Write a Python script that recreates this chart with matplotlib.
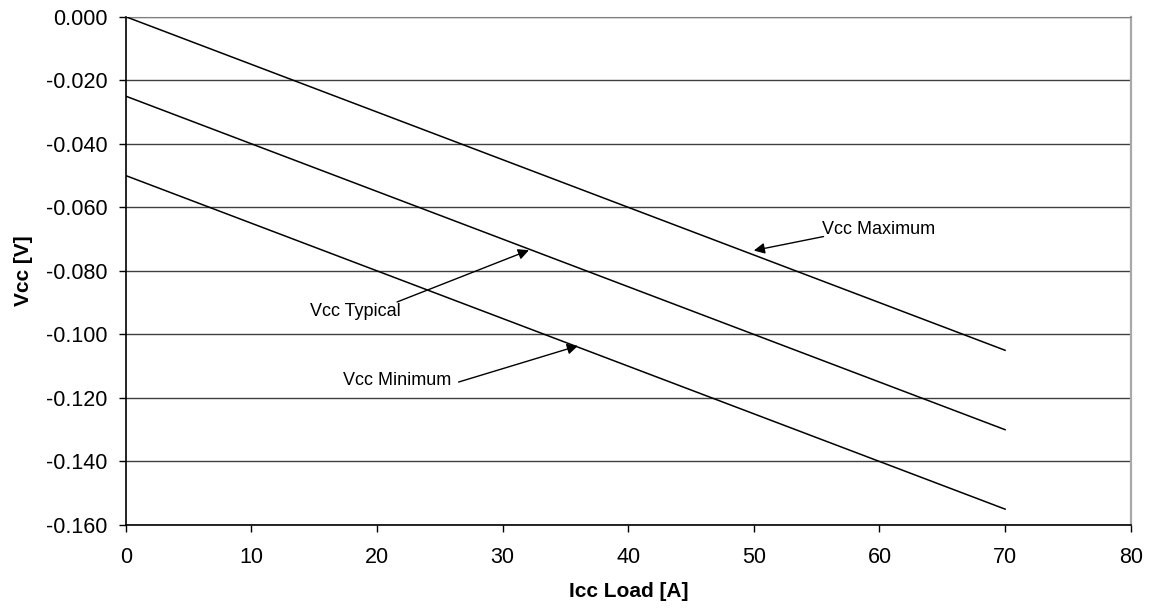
import numpy as np
import matplotlib.pyplot as plt

plt.rcParams['font.family'] = ['Liberation Sans', 'DejaVu Sans']

icc = [0, 10, 20, 30, 40, 50, 60, 70]
vcc_max = [0.000, -0.015, -0.030, -0.045, -0.060, -0.075, -0.090, -0.105]
vcc_typ = [-0.025, -0.040, -0.055, -0.070, -0.085, -0.100, -0.115, -0.130]
vcc_min = [-0.050, -0.065, -0.080, -0.095, -0.110, -0.125, -0.140, -0.155]

xticks = [0, 10, 20, 30, 40, 50, 60, 70, 80]
yticks = [-0.160, -0.140, -0.120, -0.100, -0.080, -0.060, -0.040, -0.020, 0.000]
ylabels = ['-0.160', '-0.140', '-0.120', '-0.100', '-0.080', '-0.060', '-0.040', '-0.020', '0.000']

fig = plt.figure(figsize=(11.5, 6.1), dpi=100)
W, H = 1150, 610
ax = fig.add_axes([125.7 / W, 1 - 525 / H, (1130.7 - 125.7) / W, (525 - 16.7) / H])

for v in (vcc_max, vcc_typ, vcc_min):
    ax.plot(icc, v, color='black', lw=1.1, zorder=3)

ax.set_xlim(0, 80)
ax.set_ylim(-0.16, 0)
ax.set_xticks(xticks)
ax.set_yticks(yticks)
ax.set_yticklabels(ylabels)
ax.grid(axis='y', color='#404040', lw=1)
ax.tick_params(axis='x', direction='out', length=5, width=1, labelsize=15.5, pad=11)
ax.tick_params(axis='y', direction='out', length=5, width=1, labelsize=15.5, pad=8)

ax.spines['top'].set_color('#808080')
ax.spines['right'].set_color('#a8a8a8')
ax.spines['right'].set_linewidth(1.6)
ax.spines['left'].set_linewidth(1.2)
ax.spines['bottom'].set_linewidth(1.2)

ax.set_xlabel('Icc Load [A]', fontsize=15, fontweight='bold')
ax.set_ylabel('Vcc [V]', fontsize=15, fontweight='bold')
ax.xaxis.set_label_coords(0.5005, -0.112)
ax.yaxis.set_label_coords(-0.092, 0.5)

arrow = dict(arrowstyle='-|>', color='black', lw=1, mutation_scale=16, shrinkA=0, shrinkB=0)

ax.text(55.4, -0.0670, 'Vcc Maximum', fontsize=13, ha='left', va='center')
ax.annotate('', xy=(50.0, -0.0736), xytext=(55.55, -0.0692), arrowprops=arrow)

ax.text(21.9, -0.0927, 'Vcc Typical', fontsize=13, ha='right', va='center')
ax.annotate('', xy=(32.1, -0.0735), xytext=(21.6, -0.0898), arrowprops=arrow)

ax.text(25.9, -0.1144, 'Vcc Minimum', fontsize=13, ha='right', va='center')
ax.annotate('', xy=(36.0, -0.1036), xytext=(26.5, -0.1150), arrowprops=arrow)

fig.savefig('out.png', dpi=100)
